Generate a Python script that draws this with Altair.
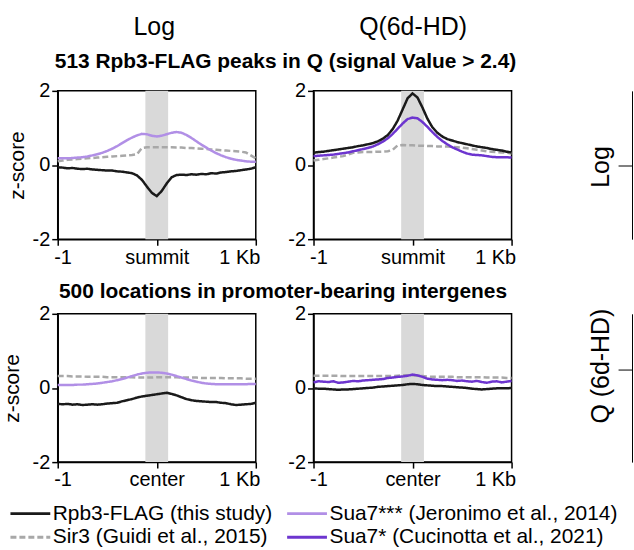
import altair as alt
import pandas as pd

F = "Liberation Sans"

# ---------------- data ----------------
positions = [-1000, -950, -900, -850, -800, -750, -700, -650, -600, -550, -500,
             -450, -400, -350, -300, -250, -200, -150, -100, -50, 0,
             50, 100, 150, 200, 250, 300, 350, 400, 450, 500,
             550, 600, 650, 700, 750, 800, 850, 900, 950, 1000]

S_RPB3 = "Rpb3-FLAG (this study)"
S_SUA3 = "Sua7*** (Jeronimo et al., 2014)"
S_SIR3 = "Sir3 (Guidi et al., 2015)"
S_SUA1 = "Sua7* (Cucinotta et al., 2021)"
legend_order = [S_RPB3, S_SIR3, S_SUA3, S_SUA1]

col_headers = ["Log", "Q(6d-HD)"]
row_titles = ["513 Rpb3-FLAG peaks in Q (signal Value > 2.4)",
              "500 locations in promoter-bearing intergenes"]
row_labels = ["Log", "Q (6d-HD)"]
tick_positions = [-1000, 0, 1000]
tick_labels_top = ["-1", "summit", "1 Kb"]
tick_labels_bottom = ["-1", "center", "1 Kb"]
y_ticks = [-2, 0, 2]
band_start = -115
band_end = 115

# top-left: Log, peaks
tl_sir3 = [0.10, 0.12, 0.14, 0.15, 0.16, 0.17, 0.18, 0.19, 0.20, 0.21, 0.22,
           0.23, 0.24, 0.25, 0.26, 0.27, 0.29, 0.46, 0.48, 0.48, 0.48,
           0.48, 0.48, 0.48, 0.47, 0.47, 0.46, 0.46, 0.45, 0.44, 0.43,
           0.42, 0.41, 0.40, 0.39, 0.38, 0.37, 0.36, 0.34, 0.26, 0.18]
tl_sua3 = [0.18, 0.18, 0.18, 0.19, 0.20, 0.21, 0.23, 0.26, 0.29, 0.33, 0.38,
           0.44, 0.51, 0.59, 0.67, 0.74, 0.80, 0.84, 0.83, 0.79, 0.77,
           0.79, 0.83, 0.87, 0.89, 0.87, 0.81, 0.73, 0.64, 0.55, 0.47,
           0.39, 0.32, 0.26, 0.21, 0.17, 0.14, 0.12, 0.10, 0.09, 0.09]
tl_rpb3 = [-0.06, -0.07, -0.09, -0.08, -0.10, -0.11, -0.10, -0.12, -0.13, -0.14, -0.15,
           -0.15, -0.17, -0.18, -0.20, -0.22, -0.28, -0.40, -0.58, -0.75, -0.84,
           -0.70, -0.50, -0.33, -0.27, -0.26, -0.27, -0.25, -0.26, -0.24, -0.25,
           -0.22, -0.23, -0.20, -0.19, -0.17, -0.16, -0.14, -0.12, -0.10, -0.06]

# top-right: Q, peaks
tr_sir3 = [0.12, 0.14, 0.16, 0.18, 0.20, 0.22, 0.24, 0.28, 0.33, 0.34, 0.35,
           0.35, 0.35, 0.36, 0.36, 0.37, 0.41, 0.53, 0.54, 0.53, 0.53,
           0.52, 0.52, 0.51, 0.51, 0.50, 0.50, 0.50, 0.49, 0.48, 0.47,
           0.45, 0.43, 0.41, 0.39, 0.37, 0.36, 0.35, 0.34, 0.33, 0.31]
tr_sua1 = [0.24, 0.25, 0.26, 0.27, 0.28, 0.30, 0.32, 0.34, 0.37, 0.40, 0.43,
           0.46, 0.50, 0.56, 0.63, 0.72, 0.84, 0.98, 1.12, 1.24, 1.28,
           1.26, 1.16, 1.03, 0.89, 0.76, 0.65, 0.56, 0.48, 0.42, 0.36,
           0.31, 0.28, 0.27, 0.26, 0.24, 0.22, 0.21, 0.21, 0.21, 0.20]
tr_rpb3 = [0.33, 0.35, 0.36, 0.38, 0.40, 0.42, 0.44, 0.46, 0.48, 0.51, 0.53,
           0.56, 0.59, 0.64, 0.71, 0.81, 0.97, 1.20, 1.50, 1.80, 1.93,
           1.82, 1.55, 1.25, 1.02, 0.87, 0.77, 0.70, 0.66, 0.62, 0.59,
           0.56, 0.53, 0.50, 0.48, 0.46, 0.43, 0.41, 0.39, 0.36, 0.34]

# bottom-left: Log, intergenes
bl_sir3 = [0.32, 0.32, 0.32, 0.31, 0.31, 0.31, 0.30, 0.30, 0.30, 0.30, 0.29,
           0.29, 0.29, 0.29, 0.29, 0.29, 0.28, 0.28, 0.28, 0.28, 0.29,
           0.29, 0.29, 0.29, 0.29, 0.28, 0.28, 0.28, 0.28, 0.27, 0.27,
           0.27, 0.27, 0.27, 0.26, 0.26, 0.26, 0.26, 0.25, 0.25, 0.25]
bl_sua3 = [0.08, 0.08, 0.08, 0.08, 0.09, 0.09, 0.10, 0.11, 0.12, 0.14, 0.16,
           0.18, 0.21, 0.24, 0.28, 0.32, 0.36, 0.39, 0.41, 0.42, 0.42,
           0.41, 0.39, 0.36, 0.32, 0.28, 0.24, 0.20, 0.17, 0.14, 0.12,
           0.11, 0.10, 0.10, 0.10, 0.10, 0.10, 0.10, 0.10, 0.11, 0.11]
bl_rpb3 = [-0.43, -0.44, -0.43, -0.45, -0.44, -0.46, -0.45, -0.44, -0.45, -0.44, -0.42,
           -0.41, -0.40, -0.36, -0.33, -0.30, -0.26, -0.23, -0.21, -0.19, -0.17,
           -0.15, -0.13, -0.16, -0.20, -0.25, -0.30, -0.33, -0.35, -0.36, -0.37,
           -0.38, -0.38, -0.40, -0.41, -0.44, -0.46, -0.45, -0.44, -0.43, -0.40]

# bottom-right: Q, intergenes
br_sir3 = [0.33, 0.33, 0.33, 0.33, 0.33, 0.33, 0.32, 0.32, 0.32, 0.32, 0.32,
           0.32, 0.32, 0.32, 0.32, 0.32, 0.32, 0.33, 0.34, 0.34, 0.34,
           0.33, 0.32, 0.31, 0.30, 0.30, 0.30, 0.30, 0.30, 0.29, 0.29,
           0.29, 0.29, 0.29, 0.29, 0.28, 0.28, 0.28, 0.28, 0.27, 0.27]
br_sua1 = [0.15, 0.18, 0.17, 0.16, 0.18, 0.14, 0.15, 0.17, 0.19, 0.18, 0.20,
           0.21, 0.22, 0.23, 0.24, 0.27, 0.28, 0.30, 0.31, 0.33, 0.36,
           0.34, 0.30, 0.25, 0.23, 0.22, 0.21, 0.22, 0.21, 0.19, 0.20,
           0.18, 0.17, 0.19, 0.16, 0.14, 0.17, 0.18, 0.15, 0.17, 0.19]
br_rpb3 = [-0.01, -0.02, -0.02, -0.03, -0.04, -0.05, -0.04, -0.04, -0.03, -0.02, -0.01,
           0.00, 0.01, 0.03, 0.04, 0.05, 0.06, 0.07, 0.08, 0.10, 0.11,
           0.10, 0.08, 0.07, 0.06, 0.05, 0.05, 0.04, 0.03, 0.02, 0.01,
           0.00, -0.02, -0.03, -0.04, -0.03, -0.02, -0.01, -0.01, -0.01, 0.00]

# ---------------- styling ----------------
color_of = {S_RPB3: "#1a1a1a", S_SUA3: "#b18fe6", S_SIR3: "#a8a8a8", S_SUA1: "#6d35cf"}
dash_of = {S_RPB3: [1, 0], S_SUA3: [1, 0], S_SIR3: [6, 3], S_SUA1: [1, 0]}
W, H = 199, 149


def long_df(pairs):
    rows = []
    for name, vals in pairs:
        for p, v in zip(positions, vals):
            rows.append({"pos": p, "z": v, "series": name})
    return pd.DataFrame(rows)


def label_expr(labels):
    parts = []
    for p, l in zip(tick_positions[:-1], labels[:-1]):
        parts.append(f"datum.value == {p} ? '{l}' : ")
    return "".join(parts) + f"'{labels[-1]}'"


legend = alt.Legend(
    title=None, orient="none", legendX=-49, legendY=502, columns=2, gridAlign="each",
    symbolType="M-1,0H3", symbolSize=400, symbolStrokeWidth=3,
    labelFont=F, labelFontSize=21, labelColor="black", labelLimit=400,
    labelOffset=21, columnPadding=8, rowPadding=2,
)

color_scale = alt.Scale(domain=legend_order, range=[color_of[s] for s in legend_order])
dash_scale = alt.Scale(domain=legend_order, range=[dash_of[s] for s in legend_order])


def panel(pairs, tick_labels, left, right_label, right_tick, right_title_y, ytitle_pad):
    df = long_df(pairs)
    band = pd.DataFrame({"start": [band_start], "end": [band_end],
                         "lo": [y_ticks[0]], "hi": [y_ticks[-1]]})
    xscale = alt.Scale(domain=[tick_positions[0], tick_positions[-1]], nice=False, zero=False)
    yscale = alt.Scale(domain=[y_ticks[0], y_ticks[-1]], nice=False, zero=False)
    xaxis = alt.Axis(values=tick_positions, labelExpr=label_expr(tick_labels),
                     labelFlush=True, labelFlushOffset=4, title=None)
    if left:
        yaxis = alt.Axis(orient="left", values=y_ticks, labelExpr="'' + datum.value",
                         title="z-score", titlePadding=ytitle_pad)
    else:
        yaxis = alt.Axis(orient="left", values=y_ticks, labelExpr="'' + datum.value", title=None)
    if right_label:
        brace_axis = alt.Axis(orient="left", offset=-(W + 121), values=[right_tick],
                              labels=False, tickSize=14, tickWidth=1, domainWidth=1,
                              title=right_label, titleFontSize=25, titlePadding=4,
                              titleAlign="center", titleY=right_title_y)
    else:
        brace_axis = None
    band_chart = alt.Chart(band).mark_rect(color="#d9d9d9").encode(
        x=alt.X("start:Q", scale=xscale, axis=xaxis),
        x2="end:Q",
        y=alt.Y("lo:Q", scale=yscale, axis=brace_axis),
        y2="hi:Q",
    )
    lines = alt.Chart(df).mark_line(strokeWidth=2.5).encode(
        x=alt.X("pos:Q", scale=xscale, axis=xaxis),
        y=alt.Y("z:Q", scale=yscale, axis=yaxis),
        color=alt.Color("series:N", scale=color_scale, legend=legend),
        strokeDash=alt.StrokeDash("series:N", scale=dash_scale, legend=legend),
    )
    return alt.layer(band_chart, lines).resolve_axis(y="independent").properties(width=W, height=H)


TL = panel([(S_SIR3, tl_sir3), (S_SUA3, tl_sua3), (S_RPB3, tl_rpb3)],
           tick_labels_top, True, None, 0, 0, 5)
TR = panel([(S_SIR3, tr_sir3), (S_SUA1, tr_sua1), (S_RPB3, tr_rpb3)],
           tick_labels_top, False, row_labels[0], 0, 76, 6)
BL = panel([(S_SIR3, bl_sir3), (S_SUA3, bl_sua3), (S_RPB3, bl_rpb3)],
           tick_labels_bottom, True, None, 0, 0, 10)
BR = panel([(S_SIR3, br_sir3), (S_SUA1, br_sua1), (S_RPB3, br_rpb3)],
           tick_labels_bottom, False, row_labels[1], 0.5, 52, 6)

row_title_style = dict(font=F, fontSize=21, fontWeight="bold", color="black",
                       anchor="middle", dx=-34)
row1 = alt.hconcat(TL, TR, spacing=25,
                   title=alt.Title(row_titles[0], offset=8, **row_title_style))
row2 = alt.hconcat(BL, BR, spacing=25,
                   title=alt.Title(row_titles[1], offset=1, **row_title_style))

header_df = pd.DataFrame({"label": col_headers})
header = alt.Chart(header_df).mark_text(font=F, fontSize=25, color="black").encode(
    x=alt.X("label:N", sort=col_headers, scale=alt.Scale(range=[97, 357], padding=0), axis=None),
    y=alt.value(25),
    text="label:N",
).properties(width=450, height=28, view=alt.ViewBackground(stroke="transparent"))

top = alt.vconcat(header, row1, spacing=10)
chart = alt.vconcat(top, row2, spacing=13).properties(
    padding={"left": 0, "right": 0, "top": 0, "bottom": 0}
).configure_axis(
    labelFont=F, titleFont=F, labelFontSize=20, titleFontSize=21,
    labelColor="black", titleColor="black", domainColor="black", tickColor="black",
    domainWidth=1.5, tickWidth=1.5, tickSize=6, labelPadding=2, grid=False,
    titleFontWeight="normal",
).configure_view(stroke="black", strokeWidth=1.5)

chart.save("out.html", embed_options={"renderer": "svg", "actions": False})
